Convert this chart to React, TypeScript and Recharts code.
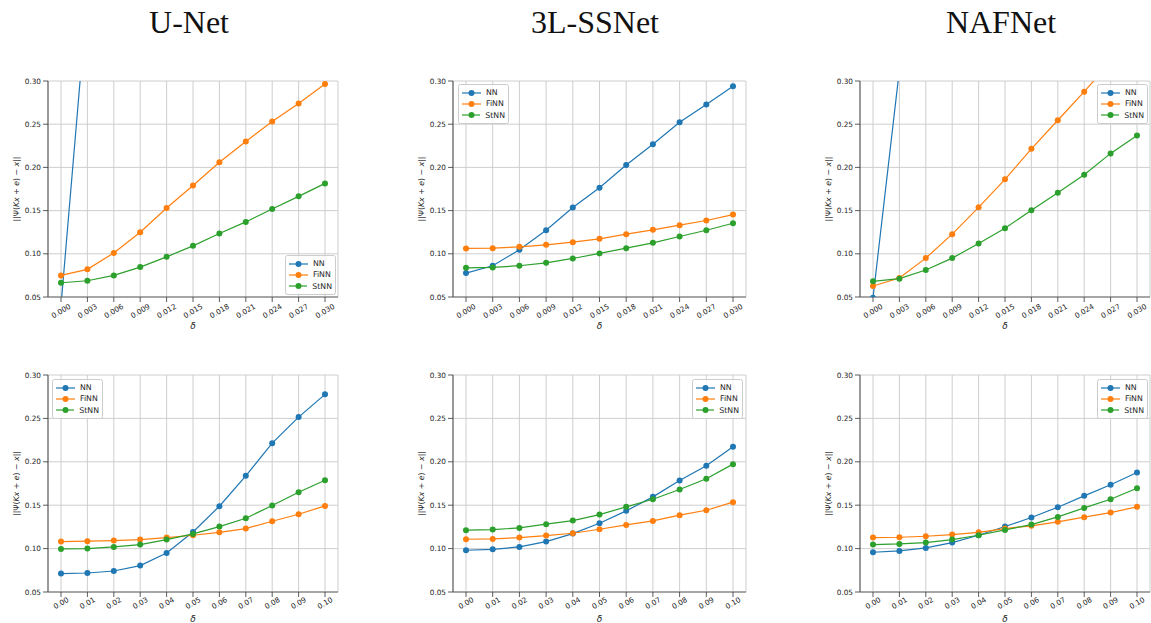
import React from 'react';
import { LineChart, Line, XAxis, YAxis, CartesianGrid, Legend, Label } from 'recharts';

// ---------- categories / ticks ----------
const deltaTop = ['0.000', '0.003', '0.006', '0.009', '0.012', '0.015', '0.018', '0.021', '0.024', '0.027', '0.030'];
const deltaBottom = ['0.00', '0.01', '0.02', '0.03', '0.04', '0.05', '0.06', '0.07', '0.08', '0.09', '0.10'];
const yTicks = [0.05, 0.1, 0.15, 0.2, 0.25, 0.3];

// ---------- U-Net (top) ----------
const unetTopNN = [0.04, 0.4, 0.78, 1.16, 1.55, 1.93, 2.32, 2.7, 3.1, 3.48, 3.87];
const unetTopFiNN = [0.075, 0.082, 0.101, 0.125, 0.153, 0.179, 0.206, 0.23, 0.253, 0.274, 0.2965];
const unetTopStNN = [0.0665, 0.0688, 0.075, 0.0846, 0.0965, 0.1092, 0.1235, 0.1369, 0.1519, 0.1665, 0.1815];

// ---------- 3L-SSNet (top) ----------
const ssnetTopNN = [0.0777, 0.0862, 0.1046, 0.1273, 0.1535, 0.1765, 0.2027, 0.2269, 0.2523, 0.2727, 0.2938];
const ssnetTopFiNN = [0.1062, 0.1065, 0.1081, 0.1104, 0.1135, 0.1173, 0.1227, 0.1277, 0.1331, 0.1385, 0.1454];
const ssnetTopStNN = [0.0838, 0.0842, 0.0862, 0.0896, 0.0946, 0.1004, 0.1065, 0.1127, 0.12, 0.1273, 0.1354];

// ---------- NAFNet (top) ----------
const nafTopNN = [0.049, 0.313, 0.58, 0.85, 1.12, 1.39, 1.66, 1.93, 2.2, 2.47, 2.74];
const nafTopFiNN = [0.0627, 0.0719, 0.095, 0.1227, 0.1538, 0.1862, 0.2215, 0.2546, 0.2877, 0.322, 0.357];
const nafTopStNN = [0.0681, 0.0712, 0.0812, 0.095, 0.1119, 0.1296, 0.1504, 0.1708, 0.1915, 0.2162, 0.2369];

// ---------- U-Net (bottom) ----------
const unetBotNN = [0.0712, 0.0719, 0.0742, 0.0804, 0.095, 0.1192, 0.1488, 0.1838, 0.2215, 0.2515, 0.2777];
const unetBotFiNN = [0.1081, 0.1085, 0.1092, 0.1104, 0.1127, 0.1154, 0.1188, 0.1231, 0.1315, 0.1396, 0.1492];
const unetBotStNN = [0.0996, 0.1, 0.1019, 0.1046, 0.1104, 0.1169, 0.1254, 0.135, 0.1496, 0.165, 0.1788];

// ---------- 3L-SSNet (bottom) ----------
const ssnetBotNN = [0.0981, 0.0992, 0.1019, 0.1081, 0.1173, 0.1292, 0.1435, 0.1596, 0.1785, 0.1954, 0.2173];
const ssnetBotFiNN = [0.1108, 0.1112, 0.1127, 0.115, 0.1177, 0.1223, 0.1273, 0.1319, 0.1385, 0.1442, 0.1535];
const ssnetBotStNN = [0.1212, 0.1219, 0.1238, 0.1281, 0.1323, 0.1392, 0.1481, 0.1569, 0.1681, 0.1804, 0.1973];

// ---------- NAFNet (bottom) ----------
const nafBotNN = [0.0958, 0.0973, 0.1008, 0.1069, 0.1154, 0.1254, 0.1358, 0.1477, 0.1608, 0.1735, 0.1877];
const nafBotFiNN = [0.1127, 0.1131, 0.1142, 0.1162, 0.1188, 0.1231, 0.1262, 0.1308, 0.1362, 0.1415, 0.1481];
const nafBotStNN = [0.1046, 0.1054, 0.1069, 0.1104, 0.1154, 0.1215, 0.1277, 0.1365, 0.1469, 0.1569, 0.1696];

const titles = ['U-Net', '3L-SSNet', 'NAFNet'];

const COLORS: Record<string, string> = { NN: '#1f77b4', FiNN: '#ff7f0e', StNN: '#2ca02c' };
const SERIES = ['NN', 'FiNN', 'StNN'];

const build = (cats: string[], nn: number[], fi: number[], st: number[]) =>
  cats.map((d, i) => ({ delta: d, NN: nn[i], FiNN: fi[i], StNN: st[i] }));

const FONT = 'DejaVu Sans';
const INK = '#262626';

const XTick = (props: any) => {
  const { x, y, payload, dy } = props;
  return (
    <g transform={`translate(${x},${y + dy})`}>
      <text
        transform="rotate(-30)"
        textAnchor="middle"
        dominantBaseline="central"
        fontSize={7.3}
        fontFamily={FONT}
        fill={INK}
      >
        {payload.value}
      </text>
    </g>
  );
};

const LegendBox = (props: any) => {
  const items = [...(props.payload || [])].sort(
    (a: any, b: any) => SERIES.indexOf(a.value) - SERIES.indexOf(b.value)
  );
  return (
    <div
      style={{
        background: 'rgba(255,255,255,0.8)',
        border: '1px solid #cccccc',
        borderRadius: 2.5,
        padding: '2px 3px 2px 3px',
        boxSizing: 'border-box',
        width: 51,
        fontFamily: FONT,
        fontSize: 7.8,
        color: INK,
      }}
    >
      {items.map((p: any) => (
        <div key={p.value} style={{ display: 'flex', alignItems: 'center', height: 11.3 }}>
          <svg width={19} height={8} style={{ display: 'block' }}>
            <line x1={0} y1={4} x2={19} y2={4} stroke={p.color} strokeWidth={1.2} />
            <circle cx={9.5} cy={4} r={3} fill={p.color} />
          </svg>
          <span style={{ marginLeft: 5, lineHeight: '11px' }}>{p.value}</span>
        </div>
      ))}
    </div>
  );
};

type Cfg = {
  data: any[];
  plotLeft: number;
  plotTop: number;
  plotW: number;
  plotH: number;
  bottomEdge: number;
  legendX: number;
  legendY: number;
  tickDy: number;
  deltaOffset: number;
};

const Panel = ({ cfg }: { cfg: Cfg }) => {
  const mL = 48;
  const mT = 21;
  const mR = 5;
  const left = cfg.plotLeft - mL;
  const top = cfg.plotTop - mT;
  const width = mL + cfg.plotW + mR;
  const height = cfg.bottomEdge - top;
  const xAxisH = height - mT - cfg.plotH;
  const pad = Math.round(cfg.plotW * 0.0455);
  return (
    <div style={{ position: 'absolute', left, top, width, height }}>
      <LineChart width={width} height={height} data={cfg.data} margin={{ top: mT, right: mR, bottom: 0, left: 0 }}>
        <CartesianGrid stroke="#c8c8c8" strokeWidth={0.9} />
        <XAxis
          dataKey="delta"
          type="category"
          interval={0}
          padding={{ left: pad, right: pad }}
          height={xAxisH}
          tickSize={5}
          tickMargin={0}
          tickLine={{ stroke: '#333', strokeWidth: 0.8 }}
          axisLine={{ stroke: '#666', strokeWidth: 1.2 }}
          tick={<XTick dy={cfg.tickDy} />}
        >
          <Label
            content={(p: any) => {
              const vb = p.viewBox || {};
              return (
                <text
                  x={vb.x + vb.width / 2}
                  y={vb.y + cfg.deltaOffset}
                  textAnchor="middle"
                  fontSize={9}
                  fontStyle="italic"
                  fontFamily={FONT}
                  fill={INK}
                >
                  δ
                </text>
              );
            }}
          />
        </XAxis>
        <XAxis
          xAxisId="top"
          orientation="top"
          dataKey="delta"
          type="category"
          padding={{ left: pad, right: pad }}
          height={0}
          tick={false}
          tickLine={false}
          axisLine={{ stroke: '#666', strokeWidth: 1.2 }}
        />
        <YAxis
          type="number"
          domain={[0.05, 0.3]}
          ticks={yTicks}
          allowDataOverflow
          width={mL}
          tickSize={5}
          tickMargin={2}
          tickFormatter={(v: number) => v.toFixed(2)}
          tick={{ fontSize: 7.3, fill: INK, fontFamily: FONT }}
          tickLine={{ stroke: '#333', strokeWidth: 0.8 }}
          axisLine={{ stroke: '#666', strokeWidth: 1.2 }}
        >
          <Label
            content={(p: any) => {
              const vb = p.viewBox || {};
              const cx = vb.x + vb.width - 32;
              const cy = vb.y + vb.height / 2;
              return (
                <text
                  transform={`translate(${cx},${cy}) rotate(-90)`}
                  textAnchor="middle"
                  dominantBaseline="central"
                  fontSize={7.8}
                  fontFamily={FONT}
                  fill={INK}
                >
                  ||Ψ(<tspan fontStyle="italic">Kx</tspan> + <tspan fontStyle="italic">e</tspan>) − <tspan fontStyle="italic">x</tspan>||
                </text>
              );
            }}
          />
        </YAxis>
        <YAxis
          yAxisId="right"
          orientation="right"
          type="number"
          domain={[0.05, 0.3]}
          allowDataOverflow
          width={0}
          tick={false}
          tickLine={false}
          axisLine={{ stroke: '#666', strokeWidth: 1.2 }}
        />
        {SERIES.map((s) => (
          <Line
            key={s}
            dataKey={s}
            name={s}
            type="linear"
            stroke={COLORS[s]}
            strokeWidth={1.2}
            dot={{ r: 3, fill: COLORS[s], stroke: COLORS[s], strokeWidth: 0 }}
            activeDot={false}
            isAnimationActive={false}
          />
        ))}
        <Legend
          layout="vertical"
          align="center"
          verticalAlign="middle"
          content={<LegendBox />}
          wrapperStyle={{ left: cfg.legendX - left, top: cfg.legendY - top, width: 51, height: 'auto', right: 'auto', bottom: 'auto' }}
        />
      </LineChart>
    </div>
  );
};

const panels: Cfg[] = [
  { data: build(deltaTop, unetTopNN, unetTopFiNN, unetTopStNN), plotLeft: 48, plotTop: 81, plotW: 290, plotH: 216, bottomEdge: 333, legendX: 285, legendY: 255, tickDy: 9, deltaOffset: 32 },
  { data: build(deltaTop, ssnetTopNN, ssnetTopFiNN, ssnetTopStNN), plotLeft: 453, plotTop: 81, plotW: 293, plotH: 216, bottomEdge: 333, legendX: 458, legendY: 84, tickDy: 9, deltaOffset: 32 },
  { data: build(deltaTop, nafTopNN, nafTopFiNN, nafTopStNN), plotLeft: 860, plotTop: 81, plotW: 290, plotH: 216, bottomEdge: 333, legendX: 1097, legendY: 84, tickDy: 9, deltaOffset: 32 },
  { data: build(deltaBottom, unetBotNN, unetBotFiNN, unetBotStNN), plotLeft: 48, plotTop: 375, plotW: 290, plotH: 217, bottomEdge: 623, legendX: 52, legendY: 379, tickDy: 6, deltaOffset: 29.5 },
  { data: build(deltaBottom, ssnetBotNN, ssnetBotFiNN, ssnetBotStNN), plotLeft: 453, plotTop: 375, plotW: 293, plotH: 217, bottomEdge: 623, legendX: 692, legendY: 379, tickDy: 6, deltaOffset: 29.5 },
  { data: build(deltaBottom, nafBotNN, nafBotFiNN, nafBotStNN), plotLeft: 860, plotTop: 375, plotW: 290, plotH: 217, bottomEdge: 623, legendX: 1097, legendY: 379, tickDy: 6, deltaOffset: 29.5 },
];

const titleCenters = [189, 595, 1001];

export default function App() {
  return (
    <div style={{ position: 'absolute', left: 0, top: 0, width: 1151, height: 623, background: '#fff', overflow: 'hidden' }}>
      {titles.map((t, i) => (
        <div
          key={t}
          style={{
            position: 'absolute',
            left: titleCenters[i] - 120,
            width: 240,
            top: 6,
            textAlign: 'center',
            fontFamily: '"Liberation Serif", serif',
            fontSize: 32,
            lineHeight: '32px',
            color: '#111',
          }}
        >
          {t}
        </div>
      ))}
      {panels.map((p, i) => (
        <Panel key={i} cfg={p} />
      ))}
    </div>
  );
}
